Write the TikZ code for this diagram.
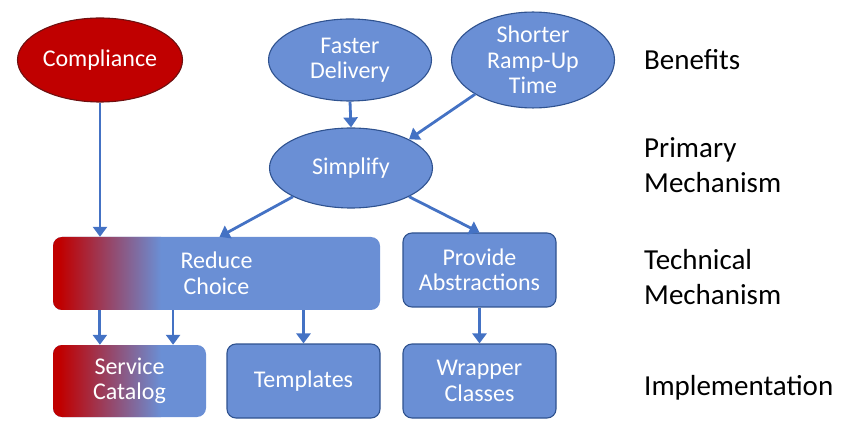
\documentclass[tikz,border=0pt]{standalone}
\usepackage{fontspec}
\setmainfont{Carlito}
\usetikzlibrary{shapes.geometric,arrows.meta,calc}
\definecolor{nodeblue}{HTML}{6A8FD5}
\definecolor{edgeblue}{HTML}{2F528F}
\definecolor{arrblue}{HTML}{4472C4}
\definecolor{compred}{HTML}{C00000}
\definecolor{compedge}{HTML}{6E1010}
\begin{document}
\begin{tikzpicture}[x=1pt,y=-1pt,
  txt/.style={text=white,font=\fontsize{24}{25.5}\selectfont,align=center,inner sep=0pt},
  oval/.style={ellipse,txt,fill=nodeblue,draw=edgeblue,line width=1.1pt},
  box/.style={rectangle,rounded corners=9pt,txt,fill=nodeblue,draw=edgeblue,line width=1.1pt,minimum width=153pt,minimum height=74pt},
  gradbox/.style={rectangle,rounded corners=9pt,txt,fill=nodeblue,
    path picture={
      \fill[compred,sharp corners] (path picture bounding box.north west) rectangle ([xshift=7pt]path picture bounding box.south west);
      \shade[sharp corners,left color=compred,right color=nodeblue]
        ([xshift=7pt]path picture bounding box.north west) rectangle ([xshift=108pt]path picture bounding box.south west);
    }},
  lbl/.style={font=\fontsize{29}{35.5}\selectfont,align=left,inner sep=0pt,anchor=base west},
  arr/.style={draw=arrblue,line width=2.8pt,-{Triangle[width=14pt,length=10pt]}}
]
\useasboundingbox (0,0) rectangle (854,438);

% benefits
\node[oval,fill=compred,draw=compedge,minimum width=165pt,minimum height=84pt] (comp) at (100,60) {Compliance};
\node[oval,minimum width=163pt,minimum height=82pt] (fast) at (350,60) {Faster\\Delivery};
\node[oval,minimum width=163pt,minimum height=81pt] (short) at (533,60) {Shorter\\Ramp-Up\\Time};

% primary mechanism
\node[oval,minimum width=163pt,minimum height=80pt] (simp) at (351,168) {Simplify};

% technical mechanism
\node[gradbox,minimum width=327pt,minimum height=73pt] (reduce) at (216.5,273.5) {Reduce\\Choice};
\node[box] (prov) at (479.5,270) {Provide\\Abstractions};

% implementation
\node[gradbox,minimum width=153pt,minimum height=72pt] (svc) at (129.5,381) {Service\\Catalog};
\node[box] (templ) at (303.5,381) {Templates};
\node[box] (wrap) at (479.5,381) {Wrapper\\Classes};

% labels
\node[lbl] (lb1) at (644,70) {Benefits};
\node[lbl] (lb2) at (644,193) {Primary\\Mechanism};
\node[lbl] (lb3) at (644,305) {Technical\\Mechanism};
\node[lbl] (lb4) at (644,395) {Implementation};

% connectors
\coordinate (sv1) at ($(svc.north west)!0.307!(svc.north east)$);
\coordinate (sv2) at ($(svc.north west)!0.784!(svc.north east)$);
\draw[arr] (comp.south) -- (comp.south |- reduce.north);
\draw[arr] (fast.south) -- (simp.north);
\draw[arr] (short.south west) -- (simp.north east);
\draw[arr] (simp.south west) -- ([xshift=3pt]reduce.north);
\draw[arr] (simp.south east) -- (prov.north);
\draw[arr] (prov.south) -- (wrap.north);
\draw[arr] (sv1 |- reduce.south) -- (sv1);
\draw[arr] (sv2 |- reduce.south) -- (sv2);
\draw[arr] (templ.north |- reduce.south) -- (templ.north);
\end{tikzpicture}
\end{document}
